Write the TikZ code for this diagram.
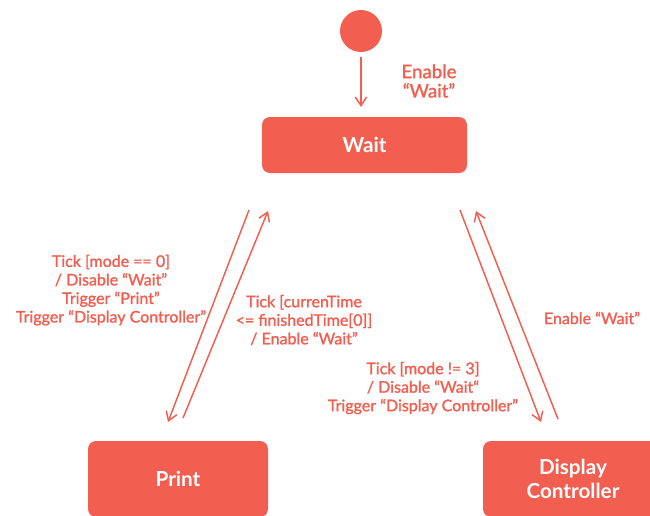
\documentclass[tikz,border=0pt]{standalone}
\usepackage{fontspec}
\setmainfont{Lato}
\newfontfamily\lblfont[FakeBold=1.3]{Lato}
\usetikzlibrary{arrows.meta}
\definecolor{coral}{RGB}{242,95,80}
\tikzset{
  statebox/.style={draw=none, fill=coral, rounded corners=6pt, text=white, font=\fontsize{15.5}{18}\selectfont\bfseries, align=center, inner sep=0pt},
  lbl/.style={text=coral, font=\lblfont\fontsize{12}{13.9}\selectfont, align=center, inner sep=0pt},
  biglbl/.style={lbl, font=\lblfont\fontsize{14}{14.5}\selectfont},
  arr/.style={draw=coral, line width=1.1pt, -{Straight Barb[length=6.5pt,width=8.5pt,line width=1.1pt]}}
}
\begin{document}
\begin{tikzpicture}[x=0.75pt,y=-0.75pt]
\useasboundingbox[fill=white] (0,0) rectangle (650,515);
% initial state
\node[circle, fill=coral, minimum size=31.5pt, inner sep=0pt] (init) at (361,31) {};
% states
\node[statebox, minimum width=153.75pt, minimum height=42pt] (wait) at (364.5,145) {Wait};
\node[statebox, minimum width=135pt, minimum height=57pt] (print) at (178,479) {Print};
\node[statebox, minimum width=135pt, minimum height=57pt] (disp) at (573,479) {Display\\Controller};
% connector end points
\coordinate (i1) at (361,57);
\coordinate (i2) at (361,107);
\coordinate (wp1) at (249,210);
\coordinate (wp2) at (168,422);
\coordinate (pw1) at (183,418);
\coordinate (pw2) at (268,211);
\coordinate (wd1) at (460,210);
\coordinate (wd2) at (541,422);
\coordinate (dw1) at (558,419);
\coordinate (dw2) at (476,211);
% connectors
\draw[arr] (i1) -- (i2);
\draw[arr] (wp1) -- (wp2);
\draw[arr] (pw1) -- (pw2);
\draw[arr] (wd1) -- (wd2);
\draw[arr] (dw1) -- (dw2);
% labels
\node[biglbl] (l0) at (429,81) {Enable\\“Wait”};
\node[lbl] (l1) at (111,290) {Tick [mode == 0]\\/ Disable “Wait”\\Trigger “Print”\\Trigger “Display Controller”};
\node[lbl] (l2) at (304,320) {Tick [currenTime\\<= finishedTime[0]]\\/ Enable “Wait”};
\node[lbl] (l3) at (592,318) {Enable “Wait”};
\node[lbl] (l4) at (423,388) {Tick [mode != 3]\\/ Disable “Wait“\\Trigger “Display Controller”};
\end{tikzpicture}
\end{document}
